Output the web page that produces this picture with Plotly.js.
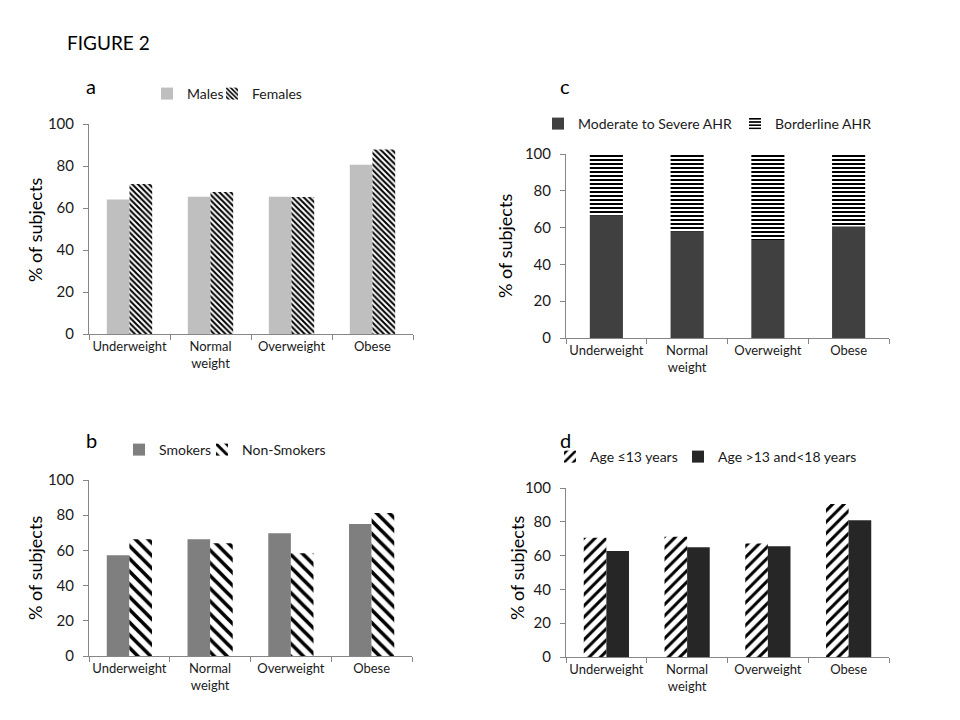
<!DOCTYPE html>
<html>
<head>
<meta charset="utf-8">
<script src="https://cdn.plot.ly/plotly-3.0.1.min.js"></script>
<style>
  body { margin: 0; background: #fff; }
  #chart { width: 960px; height: 720px; }
</style>
</head>
<body>
<div id="chart"></div>
<script>
const categories = ["Underweight", "Normal<br>weight", "Overweight", "Obese"];

// panel a
const males = [64, 65.3, 65.3, 80.6];
const females = [71.4, 67.6, 65.2, 87.8];

// panel b
const smokers = [57.3, 66.4, 69.8, 75.0];
const nonSmokers = [66.4, 64.1, 58.4, 81.2];

// panel c
const moderateAHR = [66.5, 57.8, 53.3, 60.7];
const borderlineAHR = [33.0, 41.6, 46.1, 38.7];

// panel d
const ageUnder13 = [70.6, 71.2, 67.1, 90.5];
const age13to18 = [62.7, 64.9, 65.5, 80.9];

const FONT = "Lato, 'Open Sans', sans-serif";
const AXIS_GREY = "#868686";
const TEXT = "#1a1a1a";

function px(x) { return x / 960; }
function py(y) { return 1 - y / 720; }

// every trace has its own legend so each swatch can sit where the original puts it
const traces = [
    {x: categories, y: males, type: "bar", name: "Males", xaxis: "x", yaxis: "y",
     legend: "legend", marker: {color: "#bfbfbf"}},
    {x: categories, y: females, type: "bar", name: "Females", xaxis: "x", yaxis: "y",
     legend: "legend2",
     marker: {color: "#ffffff", pattern: {shape: "\\", size: 4, solidity: 0.5, fgcolor: "#000", bgcolor: "#fff", fillmode: "replace"}}},

    {x: categories, y: smokers, type: "bar", name: "Smokers", xaxis: "x2", yaxis: "y2",
     legend: "legend3", marker: {color: "#7f7f7f"}},
    {x: categories, y: nonSmokers, type: "bar", name: "Non-Smokers", xaxis: "x2", yaxis: "y2",
     legend: "legend4",
     marker: {color: "#ffffff", pattern: {shape: "\\", size: 9, solidity: 0.4, fgcolor: "#000", bgcolor: "#fff", fillmode: "replace"}}},

    {x: categories, y: moderateAHR, type: "bar", name: "Moderate to Severe AHR", xaxis: "x3", yaxis: "y3",
     legend: "legend5", offsetgroup: "c", width: 0.41, marker: {color: "#404040"}},
    {x: categories, y: borderlineAHR, base: moderateAHR, type: "bar", name: "Borderline AHR", xaxis: "x3", yaxis: "y3",
     legend: "legend6", offsetgroup: "c", width: 0.41,
     marker: {color: "#ffffff", pattern: {shape: "-", size: 4, solidity: 0.5, fgcolor: "#000", bgcolor: "#fff", fillmode: "replace"}}},

    {x: categories, y: ageUnder13, type: "bar", name: "Age ≤13 years", xaxis: "x4", yaxis: "y4",
     legend: "legend7",
     marker: {color: "#ffffff", pattern: {shape: "/", size: 8, solidity: 0.38, fgcolor: "#000", bgcolor: "#fff", fillmode: "replace"}}},
    {x: categories, y: age13to18, type: "bar", name: "Age >13 and<18 years", xaxis: "x4", yaxis: "y4",
     legend: "legend8", marker: {color: "#262626"}}
];

function xAxis(domain, anchor) {
    return {
        domain: domain, anchor: anchor, type: "category",
        showline: true, linecolor: AXIS_GREY, linewidth: 1,
        ticks: "outside", tickson: "boundaries", ticklen: 5, tickcolor: AXIS_GREY,
        tickangle: 0,
        tickfont: {family: FONT, size: 13, color: TEXT},
        showgrid: false, zeroline: false, fixedrange: true
    };
}

function yAxis(domain, anchor) {
    return {
        domain: domain, anchor: anchor, range: [0, 100], dtick: 20,
        showline: true, linecolor: AXIS_GREY, linewidth: 1,
        ticks: "outside", ticklen: 5, tickcolor: AXIS_GREY,
        ticklabelstandoff: 6,
        tickfont: {family: FONT, size: 15, color: TEXT},
        showgrid: false, zeroline: false, fixedrange: true
    };
}

// textX is where the entry's text starts in the original, in pixels
function legendAt(textX, y) {
    return {
        x: px(textX - 38), y: py(y), xanchor: "left", yanchor: "middle", orientation: "h",
        font: {family: FONT, size: 14, color: TEXT},
        bgcolor: "rgba(0,0,0,0)", itemwidth: 30
    };
}

function label(text, x, y, size) {
    return {text: text, x: px(x), y: py(y), xref: "paper", yref: "paper",
            xanchor: "left", yanchor: "middle", showarrow: false,
            font: {family: FONT, size: size, color: "#000"}};
}

function yTitle(x, y) {
    return {text: "% of subjects", x: px(x), y: py(y), xref: "paper", yref: "paper",
            xanchor: "center", yanchor: "middle", showarrow: false, textangle: -90,
            font: {family: FONT, size: 18, color: "#000"}};
}

const layout = {
    width: 960, height: 720,
    margin: {t: 0, r: 0, b: 0, l: 0},
    paper_bgcolor: "#fff", plot_bgcolor: "#fff",
    barmode: "group", bargap: 0.44, bargroupgap: 0,
    xaxis: xAxis([px(89), px(413)], "y"),
    yaxis: yAxis([py(334), py(124)], "x"),
    xaxis2: xAxis([px(89), px(412)], "y2"),
    yaxis2: yAxis([py(656), py(480)], "x2"),
    xaxis3: xAxis([px(566), px(889)], "y3"),
    yaxis3: yAxis([py(338), py(154)], "x3"),
    xaxis4: xAxis([px(566), px(889)], "y4"),
    yaxis4: yAxis([py(657), py(488)], "x4"),
    legend: legendAt(185, 94),
    legend2: legendAt(250, 94),
    legend3: legendAt(157, 450),
    legend4: legendAt(240, 450),
    legend5: legendAt(576, 124),
    legend6: legendAt(773, 124),
    legend7: legendAt(588, 457),
    legend8: legendAt(716, 457),
    showlegend: true,
    annotations: [
        label("FIGURE 2", 65, 42, 19),
        label("a", 84, 86, 20),
        label("b", 84, 440, 20),
        label("c", 558, 86, 20),
        label("d", 558, 440, 20),
        yTitle(35, 230),
        yTitle(35, 568),
        yTitle(505, 246),
        yTitle(517, 568)
    ]
};

Plotly.newPlot("chart", traces, layout, {staticPlot: true});
</script>
</body>
</html>
